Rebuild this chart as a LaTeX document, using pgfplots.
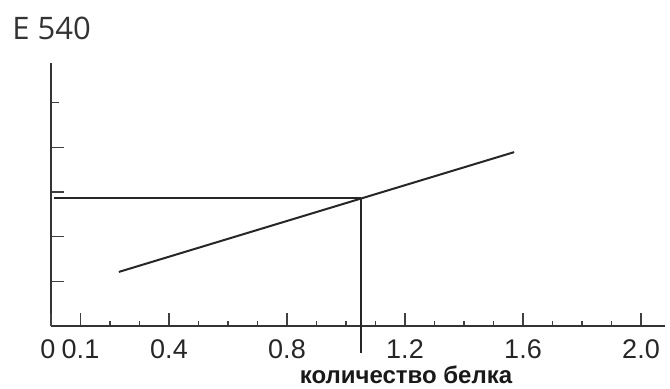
\documentclass[border=0pt]{standalone}
\usepackage{pgfplots}
\pgfplotsset{compat=1.18}
\usepackage{fontspec}
\setmainfont{Liberation Sans}
\newfontfamily\titlefont{Open Sans}
\begin{document}
\begin{tikzpicture}[x=1pt,y=1pt]
\useasboundingbox (-25.5pt,-31pt) rectangle (309.5pt,163pt);
\begin{axis}[
  anchor=origin, at={(0,0)},
  x=147.5pt, y=22.35pt,
  xmin=0, xmax=2.08, ymin=0, ymax=5.88,
  axis x line=bottom, axis y line=left,
  axis line style={-, line width=0.9pt, black!80},
  clip=false,
  xtick={0.1,0.4,0.8,1.2,1.6,2.0},
  xticklabels={0.1,0.4,0.8,1.2,1.6,2.0},
  extra x ticks={0}, extra x tick labels={0},
  extra x tick style={xticklabel style={xshift=-1.5pt}},
  minor xtick={0.2,0.3,0.5,0.6,0.7,0.9,1.0,1.1,1.3,1.4,1.5,1.7,1.8,1.9},
  ytick={1,2,3,4,5}, yticklabels={},
  xtick align=inside, ytick align=inside,
  major tick length=6.5pt, minor tick length=2.5pt,
  y tick style={/tikz/shorten >=2.5pt},
  tick style={line width=0.7pt, black!75},
  xticklabel style={font=\fontsize{13.5}{15}\selectfont, text=black!85, yshift=-3.5pt},
  /pgf/number format/assume math mode=true,
]
\addplot[black!85, line width=1pt] coordinates {(0.23,1.21) (1.57,3.89)};
\addplot[black!85, line width=1pt] coordinates {(0.01,2.86) (1.05,2.86)};
\addplot[black!85, line width=0.9pt] coordinates {(1.05,2.86) (1.05,-0.6)};
\end{axis}
\node[anchor=base west, inner sep=0pt, text=black!80] at (-19.5pt,143.5pt) {\titlefont\fontsize{15.5}{18}\selectfont E 540};
\node[inner sep=0pt, text=black!90] at (177.5pt,-24.5pt) {\fontsize{12}{14}\selectfont\bfseries количество белка};
\end{tikzpicture}
\end{document}
